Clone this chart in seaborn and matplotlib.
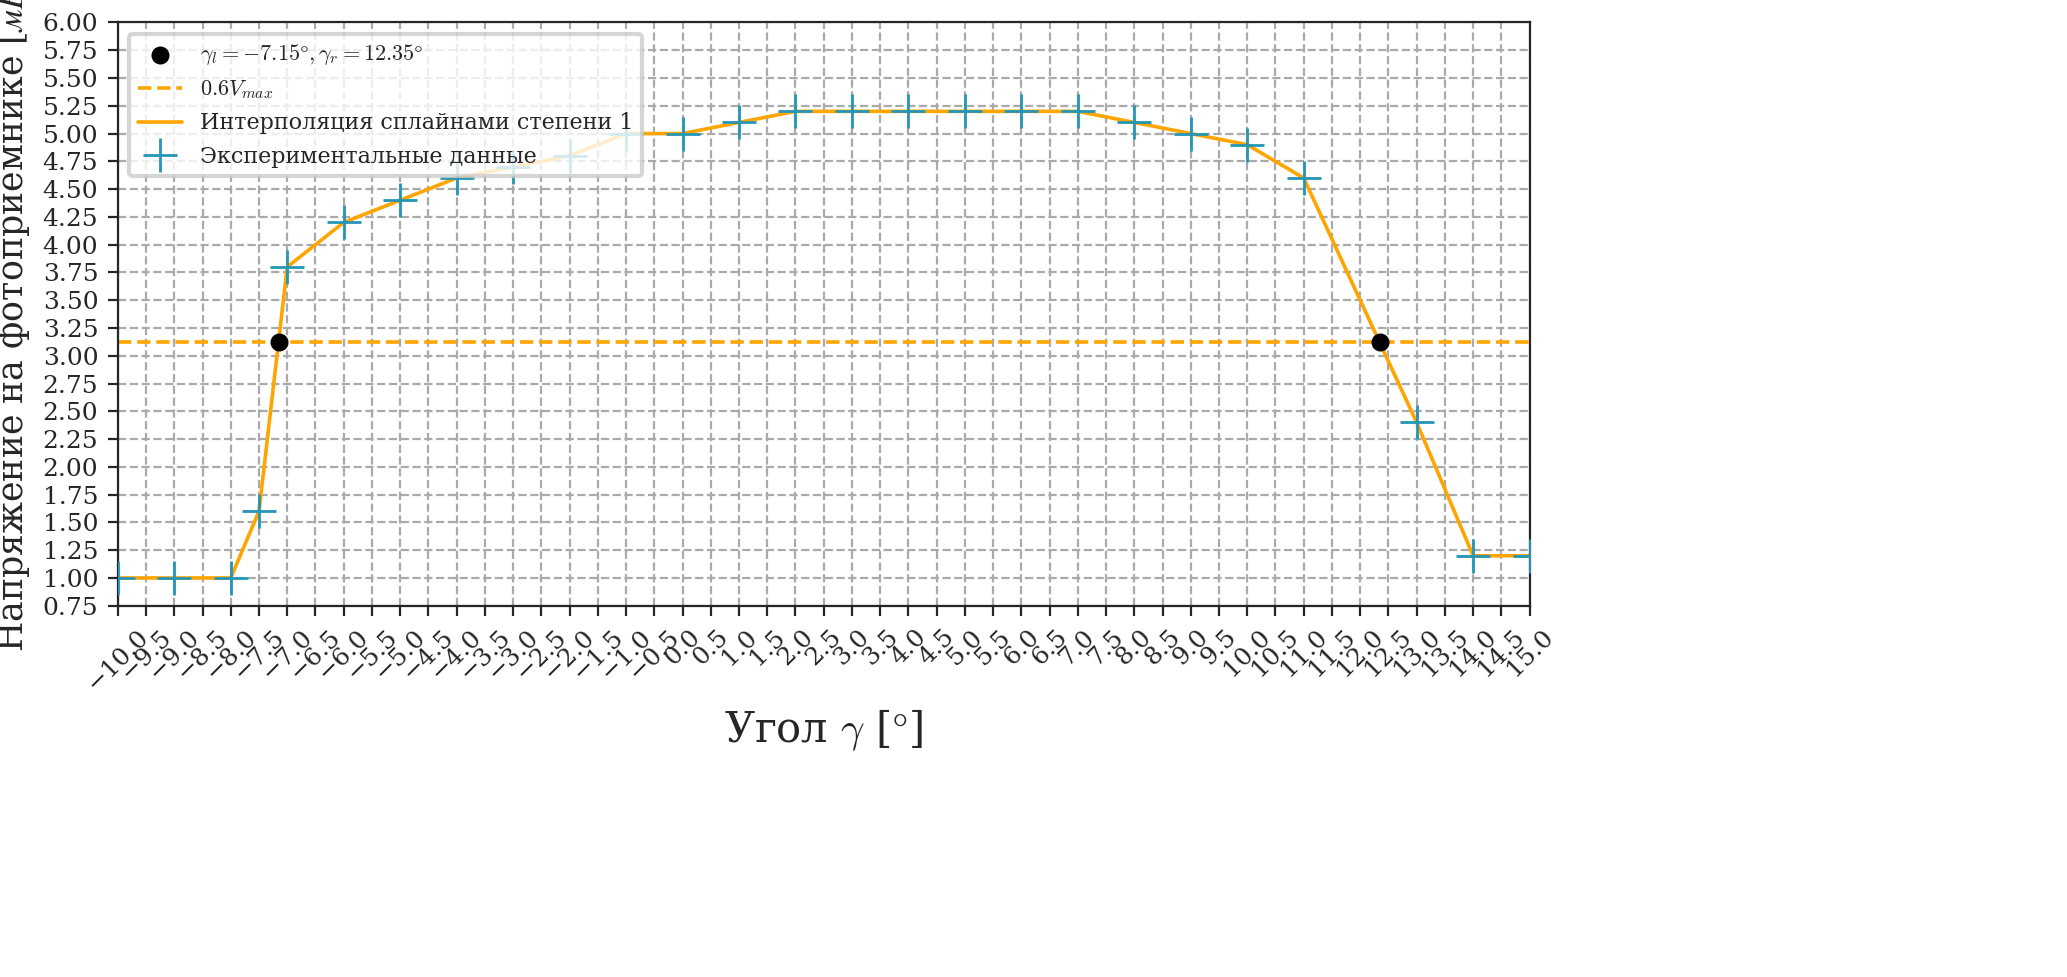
import numpy as np
import matplotlib
matplotlib.use("Agg")
import matplotlib.pyplot as plt
import seaborn as sns
import pandas as pd

sns.set_style("ticks")
plt.rcParams['font.family'] = ['DejaVu Serif']
plt.rcParams['mathtext.fontset'] = 'cm'

angles = [-10, -9, -8, -7.5, -7, -6, -5, -4, -3, -2, -1, 0, 1, 2, 3, 4, 5, 6, 7, 8, 9, 10, 11, 13, 14, 15]
voltage = [1.0, 1.0, 1.0, 1.6, 3.8, 4.2, 4.4, 4.6, 4.7, 4.8, 5.0, 5.0, 5.1, 5.2, 5.2, 5.2, 5.2, 5.2, 5.2, 5.1, 5.0, 4.9, 4.6, 2.4, 1.2, 1.2]
gamma_l, gamma_r = -7.15, 12.35
level = 0.6 * max(voltage)

df = pd.DataFrame({"x": angles, "y": voltage})

fig, ax = plt.subplots(figsize=(10.335, 4.885), dpi=200)
ax.scatter([gamma_l, gamma_r], [level, level], color='black', s=30, zorder=5,
           label=r'$\gamma_l = -7.15\degree, \gamma_r = 12.35\degree$')
ax.axhline(level, color='orange', ls='--', lw=1.3, label=r'$0.6V_{max}$')
sns.lineplot(data=df, x="x", y="y", ax=ax, color='orange', lw=1.3,
             label='Интерполяция сплайнами степени 1')
ax.plot(angles, voltage, ls='none', marker='+', ms=12, mew=1.0, color='#2596b5',
        label='Экспериментальные данные', zorder=4)

ax.set_xlim(-10, 15)
ax.set_ylim(0.75, 6.0)
ax.set_xticks(np.arange(-10, 15.01, 0.5))
ax.set_yticks(np.arange(0.75, 6.01, 0.25))
ax.tick_params(axis='x', labelrotation=45, labelsize=9)
ax.tick_params(axis='y', labelsize=9)
ax.grid(True, ls='--', color='#aaaaaa', lw=0.8)
ax.set_xlabel(r'Угол $\gamma$ [$\degree$]', fontsize=15)
ax.set_ylabel(r'Напряжение на фотоприёмнике [$мВ$]', fontsize=12.5)
leg = ax.legend(loc='upper left', fontsize=8)
leg.get_frame().set_linewidth(1.5)
fig.subplots_adjust(left=0.057, right=0.74, top=0.977, bottom=0.38)
fig.savefig("out.png", dpi=200)
